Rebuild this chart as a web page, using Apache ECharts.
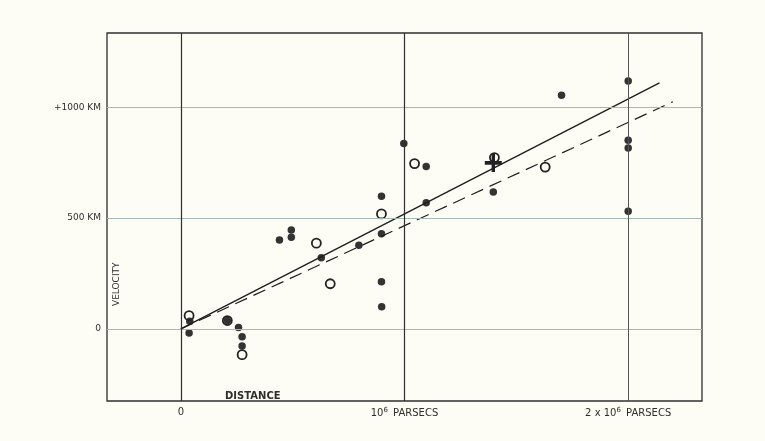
<!DOCTYPE html>
<html>
<head>
<meta charset="utf-8">
<script src="https://cdn.jsdelivr.net/npm/echarts@6/dist/echarts.min.js"></script>
<style>
  html, body { margin: 0; padding: 0; background: #fdfdf6; }
  #chart { width: 765px; height: 441px; }
</style>
</head>
<body>
<div id="chart"></div>
<script>
// distance in units of 10^6 parsecs, velocity in km/s
const nebulaDist = [0.04, 0.037, 0.208, 0.258, 0.274, 0.274, 0.441, 0.494, 0.494, 0.628, 0.796, 0.897,
  0.897, 0.897, 0.898, 0.997, 1.097, 1.097, 1.397, 1.702, 2.0, 2.0, 2.0, 2.0];
const nebulaVel = [35, -18, 38, 6, -35, -77, 401, 446, 414, 321, 378, 599,
  429, 213, 100, 836, 733, 569, 618, 1054, 1118, 851, 816, 531];

const groupDist = [0.037, 0.208, 0.274, 0.606, 0.668, 0.897, 1.045, 1.402, 1.629];
const groupVel = [60, 38, -116, 387, 204, 519, 746, 773, 730];

const meanDist = [1.397];
const meanVel = [749];

const solidFit = [[0, 0], [2.14, 1110]];
const dashedFit = [[0, 0], [2.2, 1025]];

const xTicks = [0, 1, 2];
const yTicks = [0, 500, 1000];

const ink = "#2e2e2e";
const font = "DejaVu Sans";

let myChart = echarts.init(document.getElementById("chart"));

const zip = (a, b) => a.map((v, i) => [v, b[i]]);

let option = {
  backgroundColor: "#fdfdf6",
  animation: false,
  grid: {
    left: 107,
    right: 63,
    top: 33,
    bottom: 40,
    show: true,
    borderColor: "#2f2f2f",
    borderWidth: 1.3
  },
  xAxis: {
    type: "value",
    min: -0.33,
    max: 2.33,
    axisLine: { show: false },
    axisTick: { show: false },
    splitLine: { show: false },
    axisLabel: {
      customValues: xTicks,
      margin: 6,
      color: ink,
      fontFamily: font,
      fontSize: 10,
      formatter: function(v) {
        if (v === 0) return "0";
        if (v === 1) return "10{s|6} PARSECS";
        return "2 x 10{s|6} PARSECS";
      },
      rich: {
        s: { fontSize: 7, verticalAlign: "top", color: ink, fontFamily: font, padding: [0, 2, 6, 0] }
      }
    }
  },
  yAxis: {
    type: "value",
    min: -325,
    max: 1335,
    axisLine: { show: false },
    axisTick: { show: false },
    splitLine: { show: false },
    axisLabel: {
      customValues: yTicks,
      margin: 6,
      color: ink,
      fontFamily: font,
      fontSize: 9,
      formatter: function(v) {
        if (v === 1000) return "+1000 KM";
        if (v === 500) return "500 KM";
        return "0";
      }
    }
  },
  graphic: [
    {
      type: "text",
      left: 225,
      top: 391,
      style: { text: "DISTANCE", fill: ink, font: "bold 10px " + font }
    },
    {
      type: "text",
      x: 112,
      y: 306,
      rotation: Math.PI / 2,
      style: { text: "VELOCITY", fill: ink, font: "9px " + font }
    }
  ],
  series: [
    {
      type: "line",
      silent: true,
      symbol: "none",
      data: [],
      markLine: {
        silent: true,
        symbol: "none",
        label: { show: false },
        data: yTicks.map(v => ({ yAxis: v, lineStyle: { color: "#a7b9b5", width: 1, type: "solid" } }))
          .concat(xTicks.map(v => ({ xAxis: v, lineStyle: { color: v === 2 ? "#555" : "#2f2f2f", width: v === 2 ? 1 : 1.2, type: "solid" } })))
      }
    },
    {
      type: "line",
      symbol: "none",
      data: solidFit,
      lineStyle: { color: "#1e1e1e", width: 1.4 }
    },
    {
      type: "line",
      symbol: "none",
      data: dashedFit,
      lineStyle: { color: "#1e1e1e", width: 1.2, type: [13, 7] }
    },
    {
      type: "scatter",
      symbol: "circle",
      symbolSize: 7.5,
      data: zip(nebulaDist, nebulaVel),
      itemStyle: { color: "#333", opacity: 1 }
    },
    {
      type: "scatter",
      symbol: "circle",
      symbolSize: 9,
      data: zip(groupDist, groupVel),
      itemStyle: { color: "rgba(0,0,0,0)", borderColor: "#222", borderWidth: 1.8, opacity: 1 }
    },
    {
      type: "scatter",
      symbol: "path://M4,0h2v4h4v2h-4v4h-2v-4h-4v-2h4z",
      symbolSize: [17, 18],
      data: zip(meanDist, meanVel),
      itemStyle: { color: "#222", opacity: 1 }
    }
  ]
};

myChart.setOption(option);
</script>
</body>
</html>
